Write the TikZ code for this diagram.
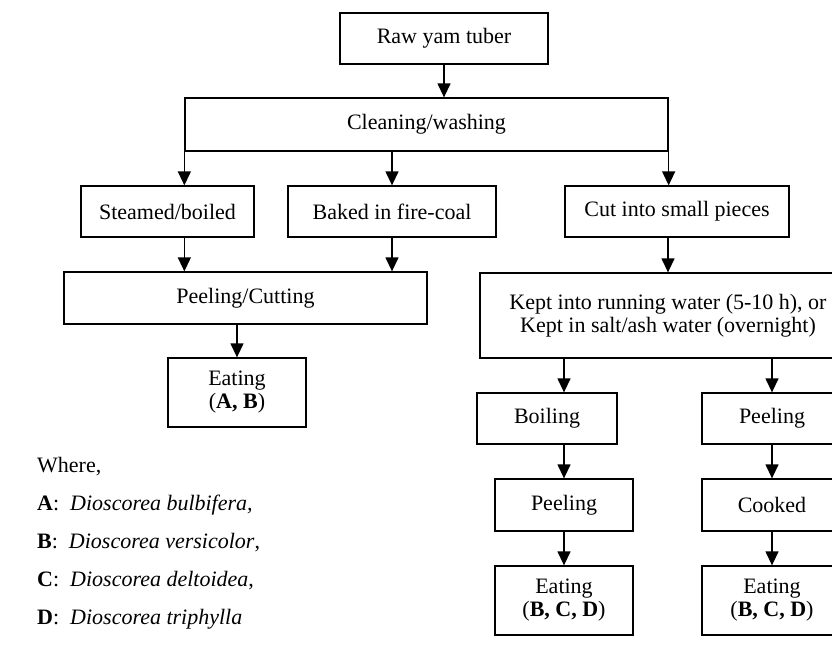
\documentclass[tikz,border=0pt]{standalone}
\usepackage{fontspec}
\setmainfont{Liberation Serif}
\usetikzlibrary{arrows.meta}
\tikzset{
  stepbox/.style={draw=black, line width=1.3pt, inner sep=0pt, align=center,
    font=\fontsize{22}{23}\selectfont},
  arr/.style={draw=black, line width=1.3pt, -{Triangle[width=13pt,length=14pt]}},
  legend/.style={anchor=west, inner sep=0pt, font=\fontsize{22}{23}\selectfont}
}
\begin{document}
\begin{tikzpicture}[x=1pt,y=-1pt]
\useasboundingbox (0,0) rectangle (832,651);
\clip (0,0) rectangle (832,651);
\fill[white] (0,0) rectangle (832,651);
% top
\node[stepbox, minimum width=208pt, minimum height=51pt] (raw) at (444,38.5) {Raw yam tuber};
\node[stepbox, minimum width=483pt, minimum height=53pt] (clean) at (426.5,124.5) {Cleaning/washing};
% second row
\node[stepbox, minimum width=173pt, minimum height=51pt] (steam) at (167.5,211.5) {Steamed/boiled};
\node[stepbox, minimum width=208pt, minimum height=51pt] (baked) at (392,211.5) {Baked in fire-coal};
\node[stepbox, minimum width=224pt, minimum height=51pt] (cut) at (677,211.5) {Cut into small pieces};
% left branch
\node[stepbox, minimum width=363pt, minimum height=52pt] (peelcut) at (245.5,298) {Peeling/Cutting};
\node[stepbox, minimum width=138pt, minimum height=69pt] (eatAB) at (237,392.5) {Eating\\(\textbf{A, B})};
% right branch
\node[stepbox, minimum width=376pt, minimum height=85pt] (kept) at (668,315.5) {Kept into running water (5-10 h), or\\Kept in salt/ash water (overnight)};
\node[stepbox, minimum width=140pt, minimum height=51pt] (boil) at (547,418.5) {Boiling};
\node[stepbox, minimum width=138pt, minimum height=52pt] (peel2) at (564,505) {Peeling};
\node[stepbox, minimum width=138pt, minimum height=69pt] (eat2) at (564,600.5) {Eating\\(\textbf{B, C, D})};
\node[stepbox, minimum width=140pt, minimum height=51pt] (peelR) at (772,418.5) {Peeling};
\node[stepbox, minimum width=140pt, minimum height=52pt] (cook) at (772,505) {Cooked};
\node[stepbox, minimum width=140pt, minimum height=69pt] (eat3) at (772,600.5) {Eating\\(\textbf{B, C, D})};
% connectors
\draw[arr] (raw.south) -- (raw.south |- clean.north);
\draw[arr] (clean.south west) -- (clean.south west |- steam.north);
\draw[arr] (baked.north |- clean.south) -- (baked.north);
\draw[arr] (clean.south east) -- (clean.south east |- cut.north);
\draw[arr] (clean.south west |- steam.south) -- (clean.south west |- peelcut.north);
\draw[arr] (baked.south) -- (baked.south |- peelcut.north);
\draw[arr] (eatAB.north |- peelcut.south) -- (eatAB.north);
\draw[arr] (kept.north |- cut.south) -- (kept.north);
\draw[arr] (peel2.north |- kept.south) -- (peel2.north |- boil.north);
\draw[arr] (peel2.north |- boil.south) -- (peel2.north);
\draw[arr] (peel2.south) -- (eat2.north);
\draw[arr] (peelR.north |- kept.south) -- (peelR.north);
\draw[arr] (peelR.south) -- (cook.north);
\draw[arr] (cook.south) -- (eat3.north);
% legend
\node[legend] (where) at (37,467) {Where,};
\node[legend] (la) at (37,505) {\textbf{A}:\ \ \textit{Dioscorea bulbifera,}};
\node[legend] (lb) at (37,543) {\textbf{B}:\ \ \textit{Dioscorea versicolor},};
\node[legend] (lc) at (37,581) {\textbf{C}:\ \ \textit{Dioscorea deltoidea},};
\node[legend] (ld) at (37,619) {\textbf{D}:\ \ \textit{Dioscorea triphylla}};
\end{tikzpicture}
\end{document}
